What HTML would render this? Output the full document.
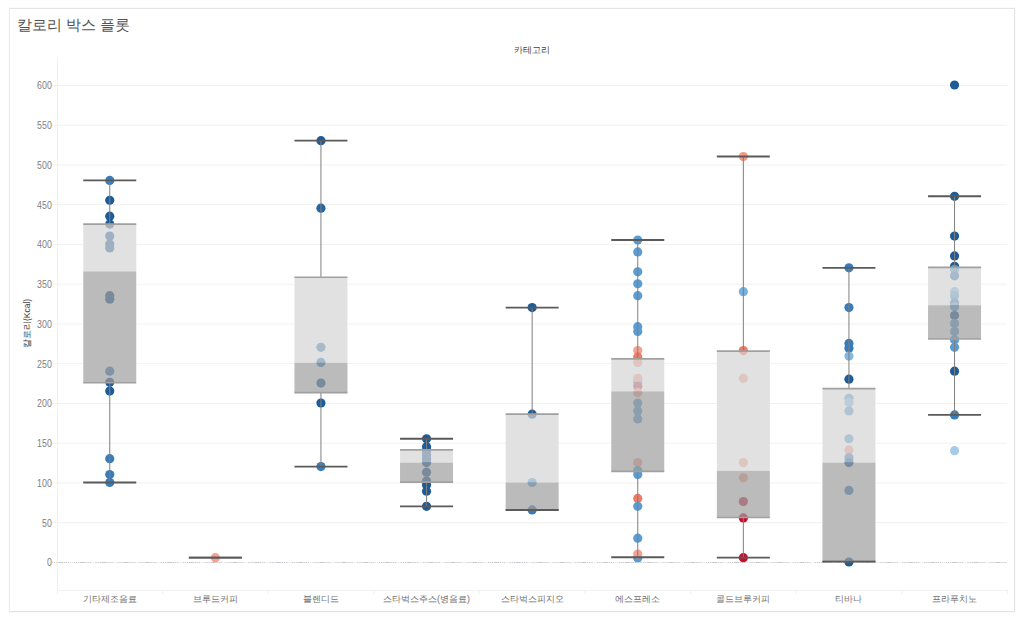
<!DOCTYPE html>
<html><head><meta charset="utf-8"><title>칼로리 박스 플롯</title>
<style>
html,body{margin:0;padding:0;background:#ffffff;width:1024px;height:626px;overflow:hidden;}
body{font-family:"Liberation Sans",sans-serif;position:relative;}
.frame{position:absolute;left:9px;top:8px;width:1004px;height:602px;border:1px solid #e4e4e4;border-left-color:#eeeeee;border-bottom-color:#e0e0e0;border-right-color:#e3e3e3;box-shadow:0 0 1.5px rgba(0,0,0,0.07);background:#fff;}
.title{position:absolute;left:17px;top:16px;font-size:14.5px;color:#525252;white-space:nowrap;}
svg{position:absolute;left:0;top:0;}
.yl{font-size:10.3px;fill:#808080;}
.xl{font-size:8.8px;fill:#707070;}
.hdr{font-size:8.5px;fill:#444;}
.yt{font-size:8.5px;fill:#3c3c3c;}
</style></head><body>
<div class="frame"></div>
<div class="title">칼로리 박스 플롯</div>
<svg width="1024" height="626" viewBox="0 0 1024 626">
<text x="532" y="52.5" text-anchor="middle" class="hdr">카테고리</text>
<text transform="translate(30,323.5) rotate(-90)" text-anchor="middle" class="yt">칼로리(Kcal)</text>
<line x1="52" y1="522.7" x2="1007" y2="522.7" stroke="#f3f1ee" stroke-width="1"/>
<line x1="52" y1="482.95" x2="1007" y2="482.95" stroke="#f3f1ee" stroke-width="1"/>
<line x1="52" y1="443.2" x2="1007" y2="443.2" stroke="#f3f1ee" stroke-width="1"/>
<line x1="52" y1="403.45" x2="1007" y2="403.45" stroke="#f3f1ee" stroke-width="1"/>
<line x1="52" y1="363.7" x2="1007" y2="363.7" stroke="#f3f1ee" stroke-width="1"/>
<line x1="52" y1="323.95" x2="1007" y2="323.95" stroke="#f3f1ee" stroke-width="1"/>
<line x1="52" y1="284.2" x2="1007" y2="284.2" stroke="#f3f1ee" stroke-width="1"/>
<line x1="52" y1="244.45" x2="1007" y2="244.45" stroke="#f3f1ee" stroke-width="1"/>
<line x1="52" y1="204.7" x2="1007" y2="204.7" stroke="#f3f1ee" stroke-width="1"/>
<line x1="52" y1="164.95" x2="1007" y2="164.95" stroke="#f3f1ee" stroke-width="1"/>
<line x1="52" y1="125.2" x2="1007" y2="125.2" stroke="#f3f1ee" stroke-width="1"/>
<line x1="52" y1="85.45" x2="1007" y2="85.45" stroke="#f3f1ee" stroke-width="1"/>
<line x1="52" y1="562.5" x2="1007" y2="562.5" stroke="#f3f1ee" stroke-width="1"/>
<line x1="52" y1="562.5" x2="1007" y2="562.5" stroke="#c4c6cc" stroke-width="1" stroke-dasharray="1,1.1,1,1.1,1,1.1,4.6"/>
<line x1="57.5" y1="57" x2="57.5" y2="594" stroke="#f3f1ee" stroke-width="1"/>
<line x1="57" y1="590.5" x2="1007" y2="590.5" stroke="#f3f1ee" stroke-width="1"/>
<line x1="162.6" y1="590" x2="162.6" y2="594" stroke="#f3f1ee" stroke-width="1"/>
<line x1="268.2" y1="590" x2="268.2" y2="594" stroke="#f3f1ee" stroke-width="1"/>
<line x1="373.8" y1="590" x2="373.8" y2="594" stroke="#f3f1ee" stroke-width="1"/>
<line x1="479.4" y1="590" x2="479.4" y2="594" stroke="#f3f1ee" stroke-width="1"/>
<line x1="585" y1="590" x2="585" y2="594" stroke="#f3f1ee" stroke-width="1"/>
<line x1="690.6" y1="590" x2="690.6" y2="594" stroke="#f3f1ee" stroke-width="1"/>
<line x1="796.2" y1="590" x2="796.2" y2="594" stroke="#f3f1ee" stroke-width="1"/>
<line x1="901.8" y1="590" x2="901.8" y2="594" stroke="#f3f1ee" stroke-width="1"/>
<line x1="1007.4" y1="590" x2="1007.4" y2="594" stroke="#f3f1ee" stroke-width="1"/>
<text x="51.8" y="566.3" text-anchor="end" class="yl" textLength="4.9" lengthAdjust="spacingAndGlyphs">0</text>
<text x="51.8" y="526.55" text-anchor="end" class="yl" textLength="9.8" lengthAdjust="spacingAndGlyphs">50</text>
<text x="51.8" y="486.8" text-anchor="end" class="yl" textLength="14.7" lengthAdjust="spacingAndGlyphs">100</text>
<text x="51.8" y="447.05" text-anchor="end" class="yl" textLength="14.7" lengthAdjust="spacingAndGlyphs">150</text>
<text x="51.8" y="407.3" text-anchor="end" class="yl" textLength="14.7" lengthAdjust="spacingAndGlyphs">200</text>
<text x="51.8" y="367.55" text-anchor="end" class="yl" textLength="14.7" lengthAdjust="spacingAndGlyphs">250</text>
<text x="51.8" y="327.8" text-anchor="end" class="yl" textLength="14.7" lengthAdjust="spacingAndGlyphs">300</text>
<text x="51.8" y="288.05" text-anchor="end" class="yl" textLength="14.7" lengthAdjust="spacingAndGlyphs">350</text>
<text x="51.8" y="248.3" text-anchor="end" class="yl" textLength="14.7" lengthAdjust="spacingAndGlyphs">400</text>
<text x="51.8" y="208.55" text-anchor="end" class="yl" textLength="14.7" lengthAdjust="spacingAndGlyphs">450</text>
<text x="51.8" y="168.8" text-anchor="end" class="yl" textLength="14.7" lengthAdjust="spacingAndGlyphs">500</text>
<text x="51.8" y="129.05" text-anchor="end" class="yl" textLength="14.7" lengthAdjust="spacingAndGlyphs">550</text>
<text x="51.8" y="89.3" text-anchor="end" class="yl" textLength="14.7" lengthAdjust="spacingAndGlyphs">600</text>
<rect x="83.25" y="224.12" width="53" height="158.6" fill="#fff"/>
<rect x="294.45" y="277.23" width="53" height="115.43" fill="#fff"/>
<rect x="400.05" y="449.9" width="53" height="32.2" fill="#fff"/>
<rect x="505.65" y="414.13" width="53" height="95.8" fill="#fff"/>
<rect x="611.25" y="358.88" width="53" height="112.49" fill="#fff"/>
<rect x="716.85" y="351.17" width="53" height="166.31" fill="#fff"/>
<rect x="822.45" y="388.69" width="53" height="172.67" fill="#fff"/>
<rect x="928.05" y="267.45" width="53" height="71.55" fill="#fff"/>
<circle cx="109.75" cy="180.4" r="4.6" fill="#3a7cb8"/>
<circle cx="109.75" cy="200.27" r="4.6" fill="#1f5b97"/>
<circle cx="109.75" cy="216.17" r="4.6" fill="#1f5b97"/>
<circle cx="109.75" cy="224.12" r="4.6" fill="#1f5b97"/>
<circle cx="109.75" cy="236.05" r="4.6" fill="#1f5b97"/>
<circle cx="109.75" cy="244" r="4.6" fill="#1f5b97"/>
<circle cx="109.75" cy="247.97" r="4.6" fill="#1f5b97"/>
<circle cx="109.75" cy="295.68" r="4.6" fill="#1f5b97"/>
<circle cx="109.75" cy="299.25" r="4.6" fill="#1f5b97"/>
<circle cx="109.75" cy="371.2" r="4.6" fill="#3a7cb8"/>
<circle cx="109.75" cy="382.33" r="4.6" fill="#1f5b97"/>
<circle cx="109.75" cy="391.07" r="4.6" fill="#1f5b97"/>
<circle cx="109.75" cy="458.65" r="4.6" fill="#3a7cb8"/>
<circle cx="109.75" cy="474.55" r="4.6" fill="#3a7cb8"/>
<circle cx="109.75" cy="482.5" r="4.6" fill="#3a7cb8"/>
<circle cx="215.35" cy="557.63" r="4.6" fill="#f5a092"/>
<circle cx="320.95" cy="140.65" r="4.6" fill="#1f5b97"/>
<circle cx="320.95" cy="208.22" r="4.6" fill="#2865a0"/>
<circle cx="320.95" cy="347.35" r="4.6" fill="#3a7cb8"/>
<circle cx="320.95" cy="362.45" r="4.6" fill="#3a7cb8"/>
<circle cx="320.95" cy="383.12" r="4.6" fill="#1f5b97"/>
<circle cx="320.95" cy="403" r="4.6" fill="#1f5b97"/>
<circle cx="320.95" cy="466.6" r="4.6" fill="#3a7cb8"/>
<circle cx="426.55" cy="438.77" r="4.6" fill="#1f5b97"/>
<circle cx="426.55" cy="446.73" r="4.6" fill="#1f5b97"/>
<circle cx="426.55" cy="450.7" r="4.6" fill="#1f5b97"/>
<circle cx="426.55" cy="454.68" r="4.6" fill="#1f5b97"/>
<circle cx="426.55" cy="458.65" r="4.6" fill="#1f5b97"/>
<circle cx="426.55" cy="462.62" r="4.6" fill="#1f5b97"/>
<circle cx="426.55" cy="472.16" r="4.6" fill="#1f5b97"/>
<circle cx="426.55" cy="480.91" r="4.6" fill="#1f5b97"/>
<circle cx="426.55" cy="484.88" r="4.6" fill="#1f5b97"/>
<circle cx="426.55" cy="491.25" r="4.6" fill="#1f5b97"/>
<circle cx="426.55" cy="506.35" r="4.6" fill="#1f5b97"/>
<circle cx="532.15" cy="307.6" r="4.6" fill="#1f5b97"/>
<circle cx="532.15" cy="414.13" r="4.6" fill="#1f5b97"/>
<circle cx="532.15" cy="482.5" r="4.6" fill="#5b9dd2"/>
<circle cx="532.15" cy="509.93" r="4.6" fill="#3a7cb8"/>
<circle cx="637.75" cy="240.02" r="4.6" fill="#5b9dd2"/>
<circle cx="637.75" cy="251.95" r="4.6" fill="#5b9dd2"/>
<circle cx="637.75" cy="271.82" r="4.6" fill="#5b9dd2"/>
<circle cx="637.75" cy="283.75" r="4.6" fill="#5b9dd2"/>
<circle cx="637.75" cy="295.68" r="4.6" fill="#5b9dd2"/>
<circle cx="637.75" cy="326.68" r="4.6" fill="#5b9dd2"/>
<circle cx="637.75" cy="331.45" r="4.6" fill="#5b9dd2"/>
<circle cx="637.75" cy="382.33" r="4.6" fill="#5b9dd2"/>
<circle cx="637.75" cy="350.53" r="4.6" fill="#f5a092"/>
<circle cx="637.75" cy="356.89" r="4.6" fill="#f07a66"/>
<circle cx="637.75" cy="362.45" r="4.6" fill="#f5a092"/>
<circle cx="637.75" cy="378.36" r="4.6" fill="#f5a092"/>
<circle cx="637.75" cy="386.3" r="4.6" fill="#c0405e"/>
<circle cx="637.75" cy="392.66" r="4.6" fill="#f5a092"/>
<circle cx="637.75" cy="403" r="4.6" fill="#5b9dd2"/>
<circle cx="637.75" cy="410.95" r="4.6" fill="#5b9dd2"/>
<circle cx="637.75" cy="418.9" r="4.6" fill="#5b9dd2"/>
<circle cx="637.75" cy="462.62" r="4.6" fill="#f5a092"/>
<circle cx="637.75" cy="470.57" r="4.6" fill="#5b9dd2"/>
<circle cx="637.75" cy="474.55" r="4.6" fill="#5b9dd2"/>
<circle cx="637.75" cy="558.02" r="4.6" fill="#5b9dd2"/>
<circle cx="637.75" cy="498.4" r="4.6" fill="#f07a66"/>
<circle cx="637.75" cy="506.35" r="4.6" fill="#5b9dd2"/>
<circle cx="637.75" cy="538.15" r="4.6" fill="#5b9dd2"/>
<circle cx="637.75" cy="554.05" r="4.6" fill="#f5a092"/>
<circle cx="743.35" cy="156.55" r="4.6" fill="#f39a86"/>
<circle cx="743.35" cy="291.7" r="4.6" fill="#78afdc"/>
<circle cx="743.35" cy="350.53" r="4.6" fill="#f07a66"/>
<circle cx="743.35" cy="378.36" r="4.6" fill="#f5a092"/>
<circle cx="743.35" cy="462.62" r="4.6" fill="#f5a092"/>
<circle cx="743.35" cy="477.73" r="4.6" fill="#f5a092"/>
<circle cx="743.35" cy="501.58" r="4.6" fill="#c42a4c"/>
<circle cx="743.35" cy="517.88" r="4.6" fill="#c8102e"/>
<circle cx="743.35" cy="557.63" r="4.6" fill="#c8102e"/>
<circle cx="848.95" cy="267.85" r="4.6" fill="#3a7cb8"/>
<circle cx="848.95" cy="307.6" r="4.6" fill="#3a7cb8"/>
<circle cx="848.95" cy="343.38" r="4.6" fill="#3a7cb8"/>
<circle cx="848.95" cy="348.14" r="4.6" fill="#3a7cb8"/>
<circle cx="848.95" cy="356.1" r="4.6" fill="#86b9e0"/>
<circle cx="848.95" cy="379.15" r="4.6" fill="#1f5b97"/>
<circle cx="848.95" cy="398.23" r="4.6" fill="#5b9dd2"/>
<circle cx="848.95" cy="402.44" r="4.6" fill="#86b9e0"/>
<circle cx="848.95" cy="410.95" r="4.6" fill="#5b9dd2"/>
<circle cx="848.95" cy="438.77" r="4.6" fill="#5b9dd2"/>
<circle cx="848.95" cy="449.9" r="4.6" fill="#f5a092"/>
<circle cx="848.95" cy="457.86" r="4.6" fill="#3a7cb8"/>
<circle cx="848.95" cy="462.62" r="4.6" fill="#1f5b97"/>
<circle cx="848.95" cy="490.45" r="4.6" fill="#3a7cb8"/>
<circle cx="848.95" cy="562" r="4.6" fill="#1f5b97"/>
<circle cx="954.55" cy="85" r="4.6" fill="#1f5b97"/>
<circle cx="954.55" cy="196.3" r="4.6" fill="#1f5b97"/>
<circle cx="954.55" cy="236.05" r="4.6" fill="#1f5b97"/>
<circle cx="954.55" cy="255.93" r="4.6" fill="#1f5b97"/>
<circle cx="954.55" cy="266.26" r="4.6" fill="#1f5b97"/>
<circle cx="954.55" cy="269.44" r="4.6" fill="#5b9dd2"/>
<circle cx="954.55" cy="275.8" r="4.6" fill="#3a7cb8"/>
<circle cx="954.55" cy="291.7" r="4.6" fill="#86b9e0"/>
<circle cx="954.55" cy="295.68" r="4.6" fill="#5b9dd2"/>
<circle cx="954.55" cy="302.83" r="4.6" fill="#3a7cb8"/>
<circle cx="954.55" cy="306.8" r="4.6" fill="#5b9dd2"/>
<circle cx="954.55" cy="315.55" r="4.6" fill="#1f5b97"/>
<circle cx="954.55" cy="323.5" r="4.6" fill="#5b9dd2"/>
<circle cx="954.55" cy="331.45" r="4.6" fill="#5b9dd2"/>
<circle cx="954.55" cy="339.8" r="4.6" fill="#5b9dd2"/>
<circle cx="954.55" cy="347.35" r="4.6" fill="#5b9dd2"/>
<circle cx="954.55" cy="371.2" r="4.6" fill="#1f5b97"/>
<circle cx="954.55" cy="414.92" r="4.6" fill="#3a7cb8"/>
<circle cx="954.55" cy="450.7" r="4.6" fill="#a6cbe6"/>
<rect x="83.25" y="224.12" width="53" height="47.3" fill="rgb(212,212,212)" fill-opacity="0.7"/>
<rect x="83.25" y="271.43" width="53" height="111.3" fill="rgb(158,158,158)" fill-opacity="0.7"/>
<rect x="294.45" y="277.23" width="53" height="85.62" fill="rgb(212,212,212)" fill-opacity="0.7"/>
<rect x="294.45" y="362.85" width="53" height="29.81" fill="rgb(158,158,158)" fill-opacity="0.7"/>
<rect x="400.05" y="449.9" width="53" height="12.72" fill="rgb(212,212,212)" fill-opacity="0.7"/>
<rect x="400.05" y="462.62" width="53" height="19.48" fill="rgb(158,158,158)" fill-opacity="0.7"/>
<rect x="505.65" y="414.13" width="53" height="68.37" fill="rgb(212,212,212)" fill-opacity="0.7"/>
<rect x="505.65" y="482.5" width="53" height="27.43" fill="rgb(158,158,158)" fill-opacity="0.7"/>
<rect x="611.25" y="358.88" width="53" height="32.52" fill="rgb(212,212,212)" fill-opacity="0.7"/>
<rect x="611.25" y="391.39" width="53" height="79.98" fill="rgb(158,158,158)" fill-opacity="0.7"/>
<rect x="716.85" y="351.17" width="53" height="119.81" fill="rgb(212,212,212)" fill-opacity="0.7"/>
<rect x="716.85" y="470.97" width="53" height="46.51" fill="rgb(158,158,158)" fill-opacity="0.7"/>
<rect x="822.45" y="388.69" width="53" height="73.94" fill="rgb(212,212,212)" fill-opacity="0.7"/>
<rect x="822.45" y="462.62" width="53" height="98.74" fill="rgb(158,158,158)" fill-opacity="0.7"/>
<rect x="928.05" y="267.45" width="53" height="37.76" fill="rgb(212,212,212)" fill-opacity="0.7"/>
<rect x="928.05" y="305.21" width="53" height="33.79" fill="rgb(158,158,158)" fill-opacity="0.7"/>
<line x1="109.75" y1="180.4" x2="109.75" y2="224.12" stroke="#7f7f7f" stroke-width="1"/>
<line x1="109.75" y1="382.73" x2="109.75" y2="482.5" stroke="#7f7f7f" stroke-width="1"/>
<line x1="83.25" y1="224.12" x2="136.25" y2="224.12" stroke="#a0a0a0" stroke-width="1.7"/>
<line x1="83.25" y1="382.73" x2="136.25" y2="382.73" stroke="#a0a0a0" stroke-width="1.7"/>
<line x1="83.25" y1="180.4" x2="136.25" y2="180.4" stroke="#5a5a5a" stroke-width="1.9"/>
<line x1="83.25" y1="482.5" x2="136.25" y2="482.5" stroke="#5a5a5a" stroke-width="1.9"/>
<line x1="188.85" y1="557.63" x2="241.85" y2="557.63" stroke="#5a5a5a" stroke-width="1.9"/>
<line x1="188.85" y1="557.63" x2="241.85" y2="557.63" stroke="#5a5a5a" stroke-width="1.9"/>
<line x1="320.95" y1="140.65" x2="320.95" y2="277.23" stroke="#7f7f7f" stroke-width="1"/>
<line x1="320.95" y1="392.66" x2="320.95" y2="466.6" stroke="#7f7f7f" stroke-width="1"/>
<line x1="294.45" y1="277.23" x2="347.45" y2="277.23" stroke="#a0a0a0" stroke-width="1.7"/>
<line x1="294.45" y1="392.66" x2="347.45" y2="392.66" stroke="#a0a0a0" stroke-width="1.7"/>
<line x1="294.45" y1="140.65" x2="347.45" y2="140.65" stroke="#5a5a5a" stroke-width="1.9"/>
<line x1="294.45" y1="466.6" x2="347.45" y2="466.6" stroke="#5a5a5a" stroke-width="1.9"/>
<line x1="426.55" y1="438.77" x2="426.55" y2="449.9" stroke="#7f7f7f" stroke-width="1"/>
<line x1="426.55" y1="482.1" x2="426.55" y2="506.35" stroke="#7f7f7f" stroke-width="1"/>
<line x1="400.05" y1="449.9" x2="453.05" y2="449.9" stroke="#a0a0a0" stroke-width="1.7"/>
<line x1="400.05" y1="482.1" x2="453.05" y2="482.1" stroke="#a0a0a0" stroke-width="1.7"/>
<line x1="400.05" y1="438.77" x2="453.05" y2="438.77" stroke="#5a5a5a" stroke-width="1.9"/>
<line x1="400.05" y1="506.35" x2="453.05" y2="506.35" stroke="#5a5a5a" stroke-width="1.9"/>
<line x1="532.15" y1="307.6" x2="532.15" y2="414.13" stroke="#7f7f7f" stroke-width="1"/>
<line x1="505.65" y1="414.13" x2="558.65" y2="414.13" stroke="#a0a0a0" stroke-width="1.7"/>
<line x1="505.65" y1="509.93" x2="558.65" y2="509.93" stroke="#a0a0a0" stroke-width="1.7"/>
<line x1="505.65" y1="307.6" x2="558.65" y2="307.6" stroke="#5a5a5a" stroke-width="1.9"/>
<line x1="505.65" y1="509.93" x2="558.65" y2="509.93" stroke="#5a5a5a" stroke-width="1.9"/>
<line x1="637.75" y1="240.02" x2="637.75" y2="358.88" stroke="#7f7f7f" stroke-width="1"/>
<line x1="637.75" y1="471.37" x2="637.75" y2="557.23" stroke="#7f7f7f" stroke-width="1"/>
<line x1="611.25" y1="358.88" x2="664.25" y2="358.88" stroke="#a0a0a0" stroke-width="1.7"/>
<line x1="611.25" y1="471.37" x2="664.25" y2="471.37" stroke="#a0a0a0" stroke-width="1.7"/>
<line x1="611.25" y1="240.02" x2="664.25" y2="240.02" stroke="#5a5a5a" stroke-width="1.9"/>
<line x1="611.25" y1="557.23" x2="664.25" y2="557.23" stroke="#5a5a5a" stroke-width="1.9"/>
<line x1="743.35" y1="156.55" x2="743.35" y2="351.17" stroke="#7f7f7f" stroke-width="1"/>
<line x1="743.35" y1="517.48" x2="743.35" y2="557.63" stroke="#7f7f7f" stroke-width="1"/>
<line x1="716.85" y1="351.17" x2="769.85" y2="351.17" stroke="#a0a0a0" stroke-width="1.7"/>
<line x1="716.85" y1="517.48" x2="769.85" y2="517.48" stroke="#a0a0a0" stroke-width="1.7"/>
<line x1="716.85" y1="156.55" x2="769.85" y2="156.55" stroke="#5a5a5a" stroke-width="1.9"/>
<line x1="716.85" y1="557.63" x2="769.85" y2="557.63" stroke="#5a5a5a" stroke-width="1.9"/>
<line x1="848.95" y1="267.85" x2="848.95" y2="388.69" stroke="#7f7f7f" stroke-width="1"/>
<line x1="848.95" y1="561.36" x2="848.95" y2="561.6" stroke="#7f7f7f" stroke-width="1"/>
<line x1="822.45" y1="388.69" x2="875.45" y2="388.69" stroke="#a0a0a0" stroke-width="1.7"/>
<line x1="822.45" y1="561.36" x2="875.45" y2="561.36" stroke="#a0a0a0" stroke-width="1.7"/>
<line x1="822.45" y1="267.85" x2="875.45" y2="267.85" stroke="#5a5a5a" stroke-width="1.9"/>
<line x1="822.45" y1="561.6" x2="875.45" y2="561.6" stroke="#5a5a5a" stroke-width="1.9"/>
<line x1="954.55" y1="196.3" x2="954.55" y2="267.45" stroke="#7f7f7f" stroke-width="1"/>
<line x1="954.55" y1="339" x2="954.55" y2="414.92" stroke="#7f7f7f" stroke-width="1"/>
<line x1="928.05" y1="267.45" x2="981.05" y2="267.45" stroke="#a0a0a0" stroke-width="1.7"/>
<line x1="928.05" y1="339" x2="981.05" y2="339" stroke="#a0a0a0" stroke-width="1.7"/>
<line x1="928.05" y1="196.3" x2="981.05" y2="196.3" stroke="#5a5a5a" stroke-width="1.9"/>
<line x1="928.05" y1="414.92" x2="981.05" y2="414.92" stroke="#5a5a5a" stroke-width="1.9"/>
<text x="109.75" y="601.8" text-anchor="middle" class="xl">기타제조음료</text>
<text x="215.35" y="601.8" text-anchor="middle" class="xl">브루드커피</text>
<text x="320.95" y="601.8" text-anchor="middle" class="xl">블렌디드</text>
<text x="426.55" y="601.8" text-anchor="middle" class="xl">스타벅스주스(병음료)</text>
<text x="532.15" y="601.8" text-anchor="middle" class="xl">스타벅스피지오</text>
<text x="637.75" y="601.8" text-anchor="middle" class="xl">에스프레소</text>
<text x="743.35" y="601.8" text-anchor="middle" class="xl">콜드브루커피</text>
<text x="848.95" y="601.8" text-anchor="middle" class="xl">티바나</text>
<text x="954.55" y="601.8" text-anchor="middle" class="xl">프라푸치노</text>
</svg>
</body></html>
